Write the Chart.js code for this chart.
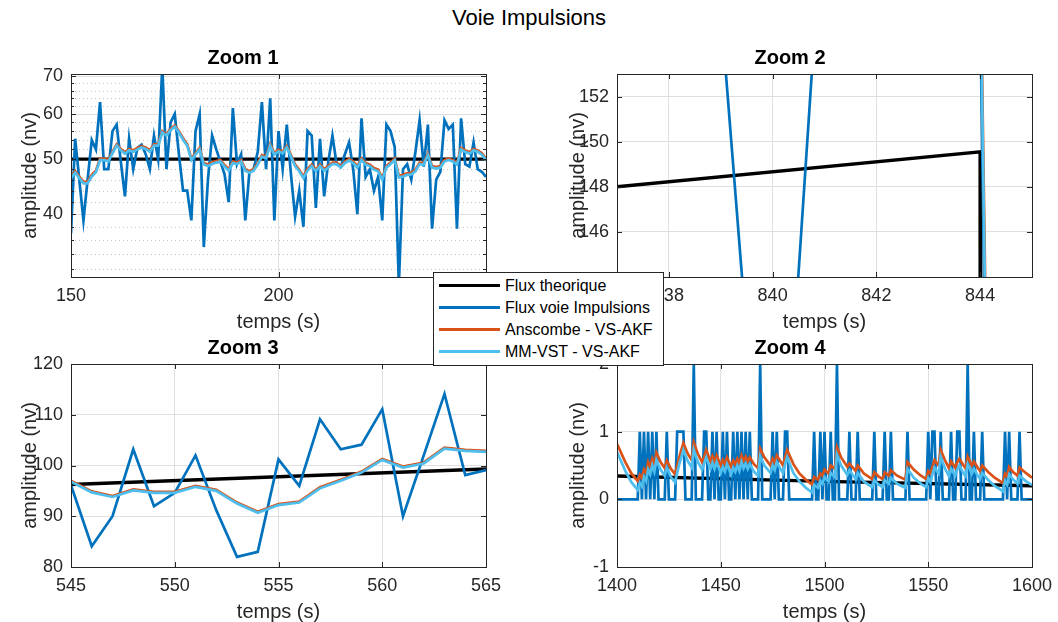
<!DOCTYPE html>
<html>
<head>
<meta charset="utf-8">
<script src="https://cdn.jsdelivr.net/npm/chart.js@4.4.1/dist/chart.umd.min.js"></script>
<style>
  body { margin:0; width:1058px; height:622px; overflow:hidden; background:#fff; position:relative;
         font-family:"Liberation Sans", Arial, sans-serif; }
  canvas { position:absolute; }
  #sup { position:absolute; left:0; top:5px; width:1058px; text-align:center; font-size:22px; line-height:26px; color:#000; }
  #legend { position:absolute; left:433px; top:272px; width:229px; height:90px; border:1px solid #262626;
            background:#fff; z-index:5; padding-top:2px; box-sizing:content-box; }
  .lg-row { position:relative; height:22px; font-size:16px; line-height:22px; color:#000; }
  .lg-row span.sw { position:absolute; left:5px; top:9px; width:61px; height:3px; }
  .lg-row span.tx { position:absolute; left:71px; top:0; white-space:nowrap; }
</style>
</head>
<body>
<div id="sup">Voie Impulsions</div>
<canvas id="z1" width="506" height="296" style="left:0;top:40px"></canvas>
<canvas id="z2" width="510" height="296" style="left:548px;top:40px"></canvas>
<canvas id="z3" width="506" height="296" style="left:0;top:330px"></canvas>
<canvas id="z4" width="510" height="296" style="left:548px;top:330px"></canvas>
<div id="legend"></div>

<script>
/* Voie Impulsions — 4 zooms, flux theorique vs mesure vs filtres */

const SERIES_NAMES = ['Flux theorique', 'Flux voie Impulsions', 'Anscombe - VS-AKF', 'MM-VST - VS-AKF'];
const COLORS = ['#000000', '#0072BD', '#D95319', '#4DBEEE'];

// ---- Zoom 1 (1 s sampling from 150 s) ----
const T1_START = 150;
const FLUX1_T = [150, 250];
const FLUX1 = [50, 50];
const IMP1 = [
  37, 54.3, 46, 39, 46, 54, 52, 63, 48, 48,
  56, 57.5, 49.5, 43, 54.3, 48, 52.3, 53, 51, 48,
  55, 50, 73, 48, 58, 60, 51, 44, 44, 39,
  56, 60, 35, 46, 55, 52, 49.5, 47, 42, 61.5,
  49, 51, 39, 47.5, 48, 51.5, 63, 48, 64, 39,
  56, 48, 57.5, 47, 39.6, 44, 38, 56, 55, 41,
  54.3, 43, 49.5, 55, 49, 48.5, 51, 53.5, 48, 40,
  59, 46.5, 48, 44, 46.5, 39, 57.5, 56, 52.5, 30,
  48, 49, 46, 51.5, 58.5, 48.5, 57.5, 37.7, 46, 47.5,
  58.5, 56.5, 57.5, 37.7, 59, 49, 48.5, 53.5, 48, 47.5,
  46.5
];
const ANS1 = [
  46.6, 47.6, 46.6, 45.6, 45.6, 46.9, 47.7, 50.1, 50.1, 49.8,
  51.5, 53.1, 52.1, 51.4, 52.1, 51.8, 52.3, 52.7, 52.4, 51.8,
  53.1, 53.1, 56.0, 55.3, 56.5, 57.3, 56.0, 54.4, 53.1, 50.1,
  51.2, 52.3, 49.2, 48.9, 49.3, 49.6, 49.8, 48.8, 48.0, 49.5,
  49.3, 49.8, 48.0, 47.6, 48.0, 49.2, 50.8, 50.5, 53.1, 51.2,
  51.9, 51.5, 52.7, 50.8, 48.9, 47.9, 46.6, 48.0, 48.9, 47.9,
  48.9, 48.0, 48.6, 49.3, 49.3, 48.6, 49.5, 50.0, 49.5, 48.6,
  50.1, 49.2, 48.9, 48.2, 47.9, 46.3, 48.6, 49.3, 50.1, 46.7,
  46.9, 47.2, 47.3, 47.9, 49.3, 49.2, 51.1, 48.6, 48.4, 48.6,
  49.8, 50.1, 49.8, 49.2, 52.3, 51.8, 51.4, 52.1, 51.8, 51.2,
  50.1
];
const MMV1 = [
  46.3, 47.3, 46.3, 45.3, 45.3, 46.6, 47.4, 49.8, 49.8, 49.5,
  51.2, 52.8, 51.8, 51.1, 51.8, 51.5, 52.0, 52.4, 52.1, 51.5,
  52.8, 52.8, 55.7, 55.0, 56.2, 57.0, 55.7, 54.1, 52.8, 49.8,
  50.9, 52.0, 48.9, 48.6, 49.0, 49.3, 49.5, 48.5, 47.7, 49.2,
  49.0, 49.5, 47.7, 47.3, 47.7, 48.9, 50.5, 50.2, 52.8, 50.9,
  51.6, 51.2, 52.4, 50.5, 48.6, 47.6, 46.3, 47.7, 48.6, 47.6,
  48.6, 47.7, 48.3, 49.0, 49.0, 48.3, 49.2, 49.7, 49.2, 48.3,
  49.8, 48.9, 48.6, 47.9, 47.6, 46.0, 48.3, 49.0, 49.8, 46.4,
  46.6, 46.9, 47.0, 47.6, 49.0, 48.9, 50.8, 48.3, 48.1, 48.3,
  49.5, 49.8, 49.5, 48.9, 52.0, 51.5, 51.1, 51.8, 51.5, 50.9,
  49.8
];
const X1_TICKS = [150, 200, 250];
const Y1_TICKS = [40, 50, 60, 70];
const Y1_MINOR = [32, 34, 36, 38, 42, 44, 46, 48, 52, 54, 56, 58, 62, 64, 66, 68];

// ---- Zoom 2 ----
const T2 = [836, 837, 838, 839, 840, 841, 842, 843, 844, 845, 846];
const FLUX2_T = [836, 844, 844.01, 846];
const FLUX2 = [147.78, 149.55, 0.3, 0.3];
const IMP2 = [162, 160, 165, 155.9, 126.9, 161.5, 170, 158, 156, 0, 0];
const ANS2 = [161, 160, 159, 158, 155, 157, 159, 160, 159, 3, 1];
const MMV2 = [160, 159, 158, 157, 154, 156, 158, 159, 158, 2, 1];
const X2_TICKS = [838, 840, 842, 844];
const Y2_TICKS = [146, 148, 150, 152];

// ---- Zoom 3 (1 s sampling from 545 s) ----
const T3_START = 545;
const FLUX3_T = [545, 565];
const FLUX3 = [96.25, 99.3];
const IMP3 = [96.1, 84.1, 90, 103.2, 92.0, 94.6, 102.0, 91.2, 82.0, 83.0, 101.2, 96.0, 109.1, 103.2, 104.1, 111.1, 90, 102, 114.1, 98.1, 99.1];
const ANS3 = [97.0, 94.9, 94.0, 95.3, 94.8, 94.8, 96.0, 95.2, 92.7, 90.9, 92.4, 92.9, 95.7, 97.2, 98.8, 101.3, 99.8, 100.6, 103.5, 103.1, 102.9];
const MMV3 = [96.8, 94.7, 93.8, 95.1, 94.6, 94.6, 95.8, 95.0, 92.5, 90.7, 92.2, 92.7, 95.5, 97.0, 98.6, 101.1, 99.6, 100.4, 103.3, 102.9, 102.7];
const X3_TICKS = [545, 550, 555, 560, 565];
const Y3_TICKS = [80, 90, 100, 110, 120];

// ---- Zoom 4 (counts at 1 s from 1400 s, filters at read-off knots) ----
const T4_START = 1400;
const FLUX4_T = [1400, 1500, 1600];
const FLUX4 = [0.345, 0.265, 0.2];
const IMP4 = [
  0,0,0,0,0,0,0,0,0,0,  0,1,0,1,0,1,0,1,0,1,
  0,0,0,0,1,0,0,0,0,1,  1,1,1,0,0,0,0,2,0,0,
  0,0,1,1,0,0,1,0,1,0,  0,1,0,1,0,0,1,0,1,0,
  1,0,1,0,1,0,0,0,0,2,  0,0,0,0,0,1,0,1,0,0,
  0,1,1,0,0,0,0,0,0,0,  0,0,0,0,0,1,0,0,1,0,
  1,0,0,1,0,0,2,0,0,0,  0,0,1,0,0,0,1,0,0,0,
  0,0,0,0,1,0,0,0,0,1,  0,0,1,0,0,0,0,0,0,0,
  1,0,0,0,0,0,0,0,0,0,  1,0,1,1,0,0,1,0,0,0,
  0,1,0,0,1,1,0,0,0,2,  0,0,1,0,0,0,1,0,0,0,
  0,0,0,0,0,0,0,1,0,1,  0,0,0,0,1,0,0,0,0,0,
  0
];
const T4K = [
  1400,1404,1407,1410,1411,1412,1413,1414,1415,1416,
  1417,1418,1419,1421,1423,1424,1426,1428,1429,1430,
  1431,1432,1434,1436,1437,1439,1441,1442,1443,1445,
  1446,1447,1448,1450,1451,1452,1453,1455,1456,1457,
  1458,1459,1460,1461,1462,1463,1464,1466,1468,1469,
  1471,1474,1475,1476,1477,1479,1480,1481,1482,1485,
  1488,1491,1494,1495,1497,1498,1499,1500,1502,1503,
  1505,1506,1508,1511,1512,1515,1516,1519,1523,1524,
  1526,1528,1529,1531,1532,1535,1539,1540,1543,1546,
  1549,1550,1551,1552,1553,1555,1556,1558,1560,1561,
  1563,1564,1565,1567,1568,1569,1571,1572,1574,1575,
  1576,1579,1582,1586,1587,1588,1589,1591,1593,1594,
  1597,1600
];
const ANS4 = [
  0.82,0.55,0.38,0.27,0.36,0.31,0.44,0.39,0.55,0.48,
  0.60,0.52,0.69,0.55,0.46,0.57,0.45,0.37,0.50,0.62,
  0.73,0.83,0.68,0.58,0.84,0.67,0.55,0.63,0.73,0.56,
  0.64,0.56,0.65,0.50,0.58,0.52,0.62,0.48,0.57,0.52,
  0.60,0.53,0.65,0.57,0.63,0.56,0.62,0.52,0.46,0.75,
  0.62,0.50,0.60,0.54,0.65,0.55,0.50,0.62,0.73,0.52,
  0.38,0.29,0.22,0.33,0.29,0.38,0.35,0.44,0.38,0.50,
  0.45,0.77,0.62,0.48,0.53,0.42,0.50,0.38,0.30,0.40,
  0.34,0.30,0.40,0.35,0.43,0.35,0.29,0.55,0.44,0.36,
  0.30,0.42,0.38,0.48,0.58,0.50,0.73,0.58,0.46,0.56,
  0.47,0.55,0.60,0.50,0.46,0.63,0.50,0.56,0.46,0.42,
  0.50,0.40,0.32,0.24,0.38,0.34,0.48,0.40,0.35,0.47,
  0.39,0.32
];
const MMV4 = [
  0.70,0.42,0.25,0.14,0.24,0.19,0.33,0.27,0.44,0.37,
  0.50,0.41,0.58,0.44,0.35,0.47,0.33,0.25,0.39,0.52,
  0.62,0.73,0.57,0.47,0.73,0.55,0.44,0.53,0.62,0.45,
  0.54,0.45,0.55,0.39,0.48,0.41,0.52,0.37,0.47,0.41,
  0.50,0.42,0.55,0.46,0.53,0.45,0.52,0.41,0.35,0.64,
  0.50,0.39,0.50,0.43,0.55,0.44,0.39,0.52,0.62,0.39,
  0.26,0.17,0.10,0.21,0.17,0.27,0.23,0.33,0.26,0.39,
  0.33,0.66,0.50,0.36,0.43,0.30,0.39,0.26,0.18,0.28,
  0.22,0.18,0.28,0.23,0.32,0.23,0.17,0.45,0.32,0.24,
  0.18,0.31,0.26,0.37,0.47,0.38,0.63,0.46,0.34,0.45,
  0.35,0.44,0.50,0.38,0.34,0.52,0.38,0.45,0.34,0.30,
  0.39,0.28,0.20,0.12,0.27,0.22,0.37,0.29,0.23,0.35,
  0.27,0.21
];
const X4_TICKS = [1400, 1450, 1500, 1550, 1600];
const Y4_TICKS = [-1, 0, 1, 2];

// ---------------------------------------------------------------
const FONT = '"Liberation Sans", Arial, sans-serif';
Chart.defaults.font.family = FONT;

const pairs  = (ts, vs) => vs.map((v, i) => ({ x: ts[i], y: v }));
const steady = (t0, vs) => vs.map((v, i) => ({ x: t0 + i, y: v }));

// MATLAB-like box, inward ticks, dotted minor grid
const matlabBox = {
  id: 'matlabBox',
  beforeDatasetsDraw(chart, args, opts) {
    const { ctx, chartArea: a, scales: { y } } = chart;
    if (!opts.minor) return;
    ctx.save();
    ctx.strokeStyle = '#c2c2c2'; ctx.lineWidth = 1; ctx.setLineDash([1, 3]);
    opts.minor.forEach(v => {
      const py = Math.round(y.getPixelForValue(v)) + 0.5;
      ctx.beginPath(); ctx.moveTo(a.left, py); ctx.lineTo(a.right, py); ctx.stroke();
    });
    ctx.restore();
  },
  afterDraw(chart, args, opts) {
    const { ctx, chartArea: a, scales: { x, y } } = chart;
    ctx.save();
    ctx.strokeStyle = '#262626'; ctx.lineWidth = 1;
    ctx.beginPath();
    x.ticks.forEach(t => {
      const px = Math.round(x.getPixelForValue(t.value)) + 0.5;
      ctx.moveTo(px, a.bottom); ctx.lineTo(px, a.bottom - 5);
      ctx.moveTo(px, a.top);    ctx.lineTo(px, a.top + 5);
    });
    y.ticks.forEach(t => {
      const py = Math.round(y.getPixelForValue(t.value)) + 0.5;
      ctx.moveTo(a.left, py);  ctx.lineTo(a.left + 5, py);
      ctx.moveTo(a.right, py); ctx.lineTo(a.right - 5, py);
    });
    (opts.minor || []).forEach(v => {
      const py = Math.round(y.getPixelForValue(v)) + 0.5;
      ctx.moveTo(a.left, py);  ctx.lineTo(a.left + 3, py);
      ctx.moveTo(a.right, py); ctx.lineTo(a.right - 3, py);
    });
    ctx.stroke();
    ctx.strokeRect(Math.round(a.left) + 0.5, Math.round(a.top) + 0.5,
                   Math.round(a.right - a.left), Math.round(a.bottom - a.top));
    ctx.restore();
  },
};

function mkLine(idx, data) {
  return {
    label: SERIES_NAMES[idx],
    data,
    borderColor: COLORS[idx],
    backgroundColor: COLORS[idx],
    borderWidth: idx === 0 ? 3.4 : 2.7,
    pointRadius: 0,
    tension: 0,
    fill: false,
    clip: 0,
    order: 4 - idx,
  };
}

function makeZoom(id, o) {
  new Chart(document.getElementById(id), {
    type: 'line',
    data: { datasets: o.datasets.map((d, i) => mkLine(i, d)) },
    plugins: [matlabBox],
    options: {
      responsive: false,
      animation: false,
      devicePixelRatio: 1,
      layout: { padding: { left: 0, right: o.padRight, top: 0, bottom: 0 } },
      plugins: {
        legend: { display: false },
        tooltip: { enabled: false },
        title: {
          display: true, text: o.title, color: '#000',
          font: { size: 20, weight: 'bold', family: FONT },
          padding: { top: 6, bottom: 4 },
        },
        matlabBox: { minor: o.minor || null },
      },
      scales: {
        x: {
          type: 'linear', min: o.xMin, max: o.xMax,
          afterBuildTicks: s => { s.ticks = o.xTicks.map(v => ({ value: v })); },
          afterFit: s => { s.height = 59; s.paddingLeft = 0; s.paddingRight = 0; },
          grid: { color: '#dfdfdf', drawTicks: false },
          border: { display: false },
          ticks: { color: '#262626', font: { size: 18 }, padding: 8, autoSkip: false, maxRotation: 0,
                   callback: v => String(v) },
          title: { display: true, text: 'temps (s)', color: '#262626', font: { size: 20 },
                   padding: { top: 0, bottom: 2 } },
        },
        y: {
          type: o.yType || 'linear', min: o.yMin, max: o.yMax,
          afterBuildTicks: s => { s.ticks = o.yTicks.map(v => ({ value: v })); },
          afterFit: s => { s.width = o.yWidth; s.paddingTop = 0; s.paddingBottom = 0; },
          grid: { color: '#dfdfdf', drawTicks: false },
          border: { display: false },
          ticks: { color: '#262626', font: { size: 18 }, padding: 8, autoSkip: false,
                   callback: v => String(v) },
          title: { display: true, text: 'amplitude (nv)', color: '#262626', font: { size: 20 },
                   padding: { top: 18, bottom: 0 } },
        },
      },
    },
  });
}

makeZoom('z1', {
  title: 'Zoom 1', yWidth: 71, padRight: 20,
  xMin: 150, xMax: 250, xTicks: X1_TICKS,
  yType: 'logarithmic', yMin: 31, yMax: 70.6, yTicks: Y1_TICKS, minor: Y1_MINOR,
  datasets: [pairs(FLUX1_T, FLUX1), steady(T1_START, IMP1), steady(T1_START, ANS1), steady(T1_START, MMV1)],
});

makeZoom('z2', {
  title: 'Zoom 2', yWidth: 69, padRight: 26,
  xMin: 837, xMax: 845, xTicks: X2_TICKS,
  yMin: 144, yMax: 153, yTicks: Y2_TICKS,
  datasets: [pairs(FLUX2_T, FLUX2), pairs(T2, IMP2), pairs(T2, ANS2), pairs(T2, MMV2)],
});

makeZoom('z3', {
  title: 'Zoom 3', yWidth: 71, padRight: 20,
  xMin: 545, xMax: 565, xTicks: X3_TICKS,
  yMin: 80, yMax: 120, yTicks: Y3_TICKS,
  datasets: [pairs(FLUX3_T, FLUX3), steady(T3_START, IMP3), steady(T3_START, ANS3), steady(T3_START, MMV3)],
});

makeZoom('z4', {
  title: 'Zoom 4', yWidth: 69, padRight: 26,
  xMin: 1400, xMax: 1600, xTicks: X4_TICKS,
  yMin: -1, yMax: 2, yTicks: Y4_TICKS,
  datasets: [pairs(FLUX4_T, FLUX4), steady(T4_START, IMP4), pairs(T4K, ANS4), pairs(T4K, MMV4)],
});

// shared legend box, sits over the middle of the figure
document.getElementById('legend').innerHTML = SERIES_NAMES.map((n, i) =>
  `<div class="lg-row"><span class="sw" style="background:${COLORS[i]}"></span><span class="tx">${n}</span></div>`
).join('');
</script>
</body>
</html>
